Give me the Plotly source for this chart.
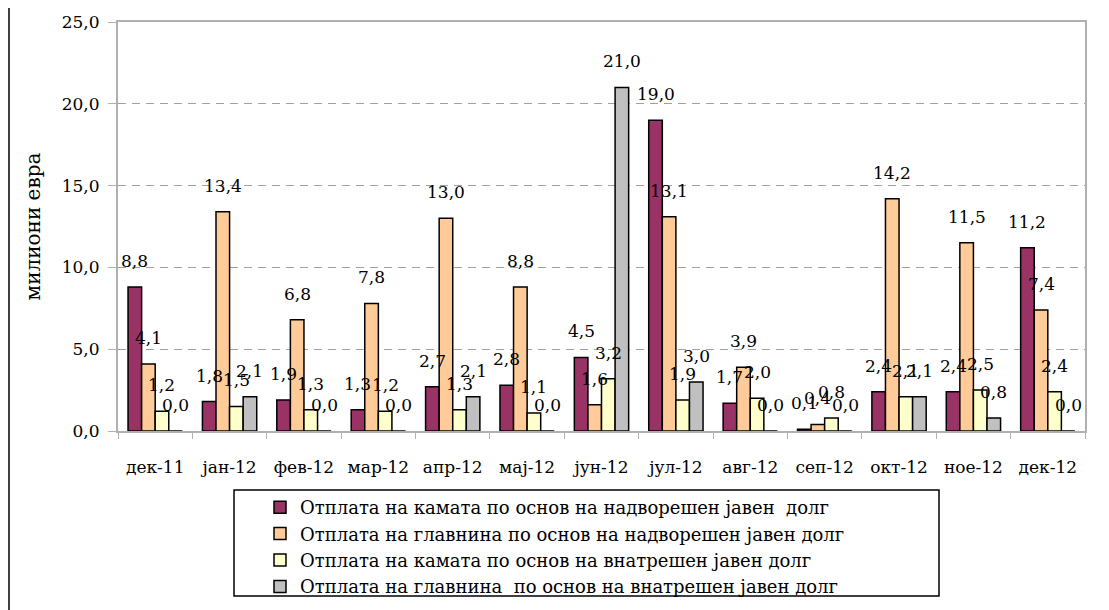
import plotly.graph_objects as go

# data (милиони евра)
months = ['дек-11', 'јан-12', 'фев-12', 'мар-12', 'апр-12', 'мај-12', 'јун-12',
          'јул-12', 'авг-12', 'сеп-12', 'окт-12', 'ное-12', 'дек-12']
ext_interest = [8.8, 1.8, 1.9, 1.3, 2.7, 2.8, 4.5, 19.0, 1.7, 0.1, 2.4, 2.4, 11.2]
ext_principal = [4.1, 13.4, 6.8, 7.8, 13.0, 8.8, 1.6, 13.1, 3.9, 0.4, 14.2, 11.5, 7.4]
dom_interest = [1.2, 1.5, 1.3, 1.2, 1.3, 1.1, 3.2, 1.9, 2.0, 0.8, 2.1, 2.5, 2.4]
dom_principal = [0.0, 2.1, 0.0, 0.0, 2.1, 0.0, 21.0, 3.0, 0.0, 0.0, 2.1, 0.8, 0.0]

names = ['Отплата на камата по основ на надворешен јавен  долг',
         'Отплата на главнина по основ на надворешен јавен долг',
         'Отплата на камата по основ на внатрешен јавен долг',
         'Отплата на главнина  по основ на внатрешен јавен долг']
colors = ['#993366', '#FFCC99', '#FFFFCC', '#C0C0C0']
series = [ext_interest, ext_principal, dom_interest, dom_principal]

# the page body has an 8px margin, so the figure is shrunk and shifted
PAGE_OFF = 8
W, H = 1109 - PAGE_OFF, 610 - PAGE_OFF
ML, MT = 118 - PAGE_OFF, 22 - PAGE_OFF
plot_w, plot_h = 967, 409
MR = W - ML - plot_w
MB = H - MT - plot_h
BARGAP = 0.27
FONT = 'DejaVu Serif'

bar_w = plot_w / len(months) * (1 - BARGAP) / len(series)


def px_x(p):
    # page pixel -> paper x
    return (p - PAGE_OFF - ML) / plot_w


def px_y(p):
    # page pixel -> paper y
    return (PAGE_OFF + MT + plot_h - p) / plot_h


fig = go.Figure()
for k, vals in enumerate(series):
    fig.add_trace(go.Bar(x=months, y=vals, name=names[k],
                         marker_color=colors[k],
                         marker_line_color='black', marker_line_width=1.5))
    for m, v in zip(months, vals):
        fig.add_annotation(x=m, y=v, text=f'{v:.1f}'.replace('.', ','),
                           showarrow=False, xshift=(k - 1.5) * bar_w,
                           yshift=26, yanchor='middle',
                           font=dict(family=FONT, size=17, color='black'))

# legend frame and outer chart border
fig.add_shape(type='rect', xref='paper', yref='paper',
              x0=px_x(234), x1=px_x(939), y0=px_y(596), y1=px_y(490),
              line=dict(color='black', width=1.5))
fig.add_shape(type='line', xref='paper', yref='paper',
              x0=px_x(9), x1=px_x(9), y0=px_y(612), y1=px_y(0),
              line=dict(color='black', width=1.5))

fig.update_layout(
    width=W, height=H,
    margin=dict(l=ML, r=MR, t=MT, b=MB, autoexpand=False),
    paper_bgcolor='white', plot_bgcolor='white',
    barmode='group', bargap=BARGAP, bargroupgap=0,
    separators=',.',
    font=dict(family=FONT, size=17, color='black'),
    showlegend=True,
    legend=dict(x=px_x(260), y=px_y(489), xanchor='left', yanchor='top',
                bgcolor='rgba(0,0,0,0)', borderwidth=0,
                font=dict(family=FONT, size=18), tracegroupgap=0,
                itemclick=False),
    xaxis=dict(showline=True, linecolor='#B0B0B0', linewidth=2, mirror=True,
               ticks='outside', tickson='boundaries', ticklen=6,
               tickcolor='#B0B0B0', ticklabelstandoff=20, showgrid=False),
    yaxis=dict(range=[0, 25], dtick=5, tickformat='.1f',
               showline=True, linecolor='#B0B0B0', linewidth=2, mirror=True,
               ticks='outside', ticklen=8, tickcolor='#B0B0B0',
               ticklabelstandoff=5,
               showgrid=True, gridcolor='#A0A0A0', griddash='8px,6px',
               gridwidth=1, zeroline=False,
               title=dict(text='милиони евра', standoff=16)),
)

fig.write_html('out.html')
